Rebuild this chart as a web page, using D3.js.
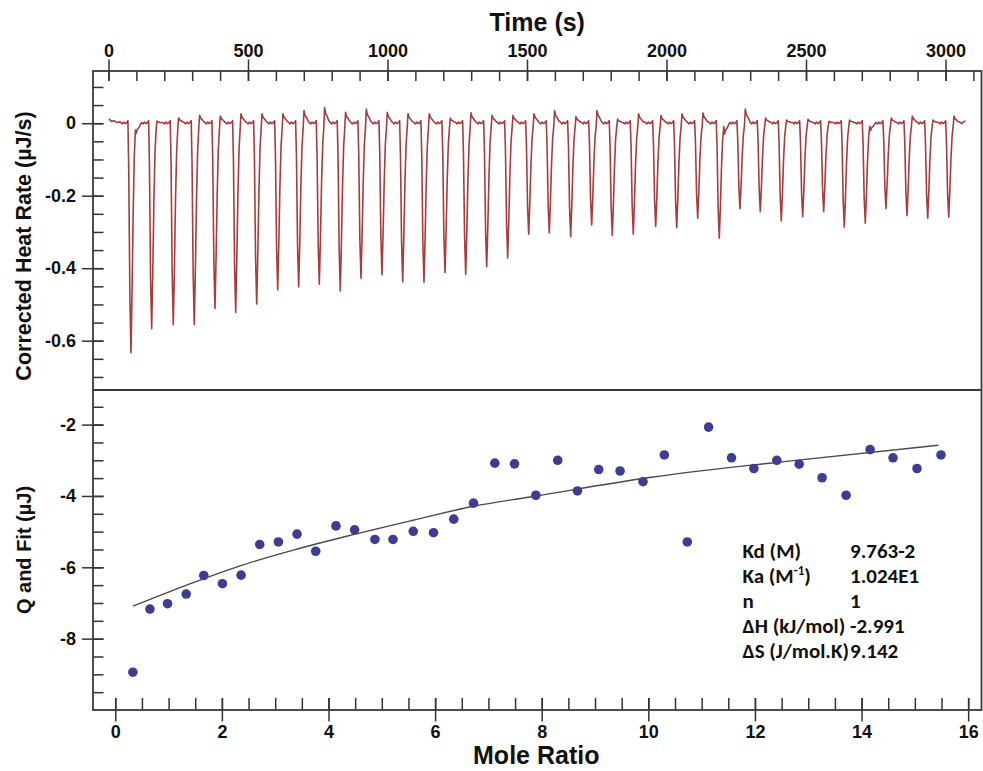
<!DOCTYPE html>
<html>
<head>
<meta charset="utf-8">
<script src="https://cdn.jsdelivr.net/npm/d3@7"></script>
<style>
  body { margin: 0; background: #fff; }
  svg text { font-family: "Liberation Sans", Arial, sans-serif; fill: #111; }
</style>
</head>
<body>
<svg id="chart" width="983" height="771"></svg>
<script>
// Injection times (s), peak minimum (µJ/s) and overshoot after each peak (µJ/s)
const injTime = [80.6, 154.8, 232.3, 307.5, 381.7, 455.9, 531.2, 606.5, 681.7, 755.6,
                 830.8, 905, 980.3, 1054.5, 1130.8, 1206.1, 1280.3, 1355.6, 1430.8, 1506.1,
                 1579.9, 1656.6, 1731.9, 1805.7, 1881, 1961.3, 2036.6, 2111.8, 2189.2, 2263.4,
                 2336.2, 2411.5, 2488.2, 2563.4, 2637.3, 2712.5, 2786.7, 2862, 2936.2, 3011.5];
const peakMin = [-0.633, -0.567, -0.556, -0.556, -0.511, -0.522, -0.499, -0.460, -0.452, -0.444,
                 -0.463, -0.428, -0.418, -0.437, -0.439, -0.412, -0.417, -0.396, -0.372, -0.306,
                 -0.303, -0.313, -0.281, -0.310, -0.306, -0.285, -0.288, -0.262, -0.317, -0.236,
                 -0.244, -0.270, -0.258, -0.244, -0.287, -0.276, -0.236, -0.255, -0.262, -0.259];
const peakBump = [-0.028, 0.006, 0.015, 0.022, 0.020, 0.026, 0.026, 0.026, 0.035, 0.043,
                  0.030, 0.039, 0.030, 0.026, 0.026, 0.014, 0.029, 0.022, 0.022, 0.026,
                  0.035, 0.018, 0.035, 0.011, 0.026, 0.021, 0.026, 0.028, -0.030, 0.039,
                  0.014, 0.009, 0.011, 0.005, 0.009, -0.020, 0.014, 0.020, 0.009, 0.020];

// baseline before the first and after the last injection [time, rate]
const leadIn = [[2, 0.012], [10, 0.005], [20, 0.007], [30, 0.002], [40, 0.004]];
const tailOut = [[3050, 0.004], [3058, -0.001], [3065, 0.004], [3072, 0.006]];

// shape of one injection peak:
// [dt from peak (s), share of peak depth, share of overshoot, offset]
const pulse = [
  [-36, 0, 0, 0.002], [-31, 0, 0, -0.002], [-26, 0, 0, 0.003], [-21, 0, 0, -0.001],
  [-15, 0, 0, 0.002], [-11, 0, 0, 0.007], [-8, 0.2, 0, 0], [-4, 0.75, 0, 0],
  [0, 1, 0, 0], [4, 0.72, 0, 0], [8, 0.38, 0, 0], [12, 0.14, 0, 0], [16, 0.03, 0, 0],
  [19, 0, 1, 0], [23, 0, 0.6, 0], [28, 0, 0.45, 0], [34, 0, 0.15, 0.001]
];

// integrated heats
const moleRatio = [0.33, 0.65, 0.98, 1.33, 1.66, 2.01, 2.36, 2.71, 3.06, 3.41,
                   3.76, 4.14, 4.49, 4.87, 5.21, 5.59, 5.97, 6.35, 6.72, 7.12,
                   7.49, 7.89, 8.30, 8.67, 9.07, 9.47, 9.90, 10.30, 10.73, 11.13,
                   11.56, 11.98, 12.41, 12.83, 13.26, 13.71, 14.16, 14.59, 15.04, 15.49];
const qHeat = [-8.94, -7.17, -7.02, -6.75, -6.23, -6.46, -6.22, -5.36, -5.29, -5.07,
               -5.55, -4.84, -4.95, -5.22, -5.22, -4.99, -5.03, -4.65, -4.20, -3.08,
               -3.10, -3.98, -3.00, -3.86, -3.26, -3.30, -3.60, -2.85, -5.29, -2.07,
               -2.93, -3.23, -3.00, -3.11, -3.49, -3.98, -2.70, -2.93, -3.23, -2.85];

// fitted curve [mole ratio, Q]
const fitCurve = [[0.33, -7.09], [1.34, -6.50], [2.34, -5.96], [3.34, -5.52], [4.34, -5.13],
                  [5.59, -4.68], [6.72, -4.29], [7.78, -4.03], [10.09, -3.47], [12.59, -3.03],
                  [15.44, -2.58]];

// tick values
const timeTicks = [0, 500, 1000, 1500, 2000, 2500, 3000];
const rateTicks = [0, -0.2, -0.4, -0.6];
const moleTicks = [0, 2, 4, 6, 8, 10, 12, 14, 16];
const qTicks = [-2, -4, -6, -8];

// fit results
const paramNames = ["Kd (M)", "Ka (M^-1)", "n", "ΔH (kJ/mol)", "ΔS (J/mol.K)"];
const paramValues = ["9.763-2", "1.024E1", "1", "-2.991", "9.142"];

const svg = d3.select("#chart");
const plotLeft = 93, plotRight = 981.5, plotTop = 71, plotMid = 390, plotBottom = 710;

const xTime = d3.scaleLinear().domain([-55.5, 3129]).range([plotLeft, plotRight]);
const yRate = d3.scaleLinear().domain([-0.736, 0.144]).range([plotMid, plotTop]);
const xMole = d3.scaleLinear().domain([-0.418, 16.25]).range([plotLeft, plotRight]);
const yQ = d3.scaleLinear().domain([-10, -1.03]).range([plotBottom, plotMid]);

const axisColor = "#333";

// style an axis group: drop domain, colour ticks, font for labels
function styleAxis(g, size) {
  g.select(".domain").remove();
  g.attr("font-family", null).attr("font-size", null);
  g.selectAll(".tick line").attr("stroke", axisColor).attr("stroke-width", 1.5);
  g.selectAll(".tick text")
    .attr("font-size", size)
    .attr("font-weight", "bold")
    .attr("fill", "#111");
}

// ---- top axis (time)
svg.append("g")
  .attr("transform", `translate(0,${plotTop})`)
  .call(d3.axisTop(xTime).tickValues(d3.range(0, 3101, 100)).tickSize(-10).tickFormat(""))
  .call(g => styleAxis(g, 18));
svg.append("g")
  .attr("transform", `translate(0,${plotTop})`)
  .call(d3.axisTop(xTime).tickValues(timeTicks).tickSize(11.5).tickPadding(2.5)
    .tickFormat(d => String(d)))
  .call(g => styleAxis(g, 18))
  .call(g => g.selectAll(".tick line").attr("y1", 10));

// ---- left axis, top panel
svg.append("g")
  .attr("transform", `translate(${plotLeft},0)`)
  .call(d3.axisLeft(yRate).tickValues(d3.range(-0.7, 0.11, 0.05)).tickSize(-10.5).tickFormat(""))
  .call(g => styleAxis(g, 18));
svg.append("g")
  .attr("transform", `translate(${plotLeft},0)`)
  .call(d3.axisLeft(yRate).tickValues(rateTicks).tickSize(11).tickPadding(6)
    .tickFormat(d => d === 0 ? "0" : d3.format(".1f")(d).replace("−", "-")))
  .call(g => styleAxis(g, 18))
  .call(g => g.selectAll(".tick line").attr("x1", 10.5));

// ---- left axis, bottom panel
svg.append("g")
  .attr("transform", `translate(${plotLeft},0)`)
  .call(d3.axisLeft(yQ).tickValues(d3.range(-9.5, -1.4, 0.5)).tickSize(-10.5).tickFormat(""))
  .call(g => styleAxis(g, 18));
svg.append("g")
  .attr("transform", `translate(${plotLeft},0)`)
  .call(d3.axisLeft(yQ).tickValues(qTicks).tickSize(11).tickPadding(6)
    .tickFormat(d => String(d)))
  .call(g => styleAxis(g, 18))
  .call(g => g.selectAll(".tick line").attr("x1", 10.5));

// ---- bottom axis (mole ratio)
svg.append("g")
  .attr("transform", `translate(0,${plotBottom})`)
  .call(d3.axisBottom(xMole).tickValues(d3.range(0, 16.01, 0.5)).tickSize(-12).tickFormat(""))
  .call(g => styleAxis(g, 18));
svg.append("g")
  .attr("transform", `translate(0,${plotBottom})`)
  .call(d3.axisBottom(xMole).tickValues(moleTicks).tickSize(11.5).tickPadding(3.5))
  .call(g => styleAxis(g, 18))
  .call(g => g.selectAll(".tick line").attr("y1", -12));

// ---- frame and divider
svg.append("rect")
  .attr("x", plotLeft).attr("y", plotTop)
  .attr("width", plotRight - plotLeft).attr("height", plotBottom - plotTop)
  .attr("fill", "none").attr("stroke", "#3a3a3a").attr("stroke-width", 1.8);
svg.append("line")
  .attr("x1", plotLeft).attr("x2", plotRight)
  .attr("y1", plotMid).attr("y2", plotMid)
  .attr("stroke", "#3a3a3a").attr("stroke-width", 1.8);

// ---- thermogram
const trace = leadIn.slice();
injTime.forEach((t, i) => {
  pulse.forEach(([dt, fD, fB, off]) => {
    trace.push([t + dt, fD * peakMin[i] + fB * peakBump[i] + off]);
  });
});
tailOut.forEach(p => trace.push(p));

svg.append("path")
  .datum(trace)
  .attr("fill", "none")
  .attr("stroke", "#a63c3c")
  .attr("stroke-width", 1.6)
  .attr("stroke-linejoin", "round")
  .attr("d", d3.line().x(d => xTime(d[0])).y(d => yRate(d[1])));

// ---- fit line and points
svg.append("path")
  .datum(fitCurve)
  .attr("fill", "none")
  .attr("stroke", "#4a4a4a")
  .attr("stroke-width", 1.4)
  .attr("d", d3.line().x(d => xMole(d[0])).y(d => yQ(d[1])).curve(d3.curveMonotoneX));

svg.append("g")
  .selectAll("circle")
  .data(moleRatio.map((m, i) => ({ m, q: qHeat[i] })))
  .enter().append("circle")
  .attr("cx", d => xMole(d.m))
  .attr("cy", d => yQ(d.q))
  .attr("r", 4.8)
  .attr("fill", "#3d3d94");

// ---- titles
svg.append("text")
  .attr("x", (plotLeft + plotRight) / 2).attr("y", 31)
  .attr("text-anchor", "middle")
  .attr("font-size", 25).attr("font-weight", "bold")
  .text("Time (s)");

svg.append("text")
  .attr("x", (plotLeft + plotRight) / 2 - 1).attr("y", 764)
  .attr("text-anchor", "middle")
  .attr("font-size", 25).attr("font-weight", "bold")
  .text("Mole Ratio");

svg.append("text")
  .attr("transform", "translate(31,246) rotate(-90)")
  .attr("text-anchor", "middle")
  .attr("font-size", 21.5).attr("font-weight", "bold")
  .text("Corrected Heat Rate (µJ/s)");

svg.append("text")
  .attr("transform", "translate(31,550) rotate(-90)")
  .attr("text-anchor", "middle")
  .attr("font-size", 20).attr("font-weight", "bold")
  .text("Q and Fit (µJ)");

// ---- fit parameters
const params = svg.append("g")
  .attr("font-size", 21);

paramNames.forEach((name, i) => {
  const yBase = 558 + i * 25;
  const t = params.append("text")
    .attr("x", 742.5).attr("y", yBase)
    .style("font-family", "Carlito, Lato, sans-serif")
    .style("font-weight", 600);
  const parts = name.split(/\^(-?\d+)/);
  parts.forEach((p, k) => {
    if (!p) return;
    const span = t.append("tspan").text(p);
    if (k % 2 === 1) span.attr("font-size", 13).attr("dy", -8);
    else if (k > 1) span.attr("dy", 8);
  });
  params.append("text")
    .attr("x", 850).attr("y", yBase)
    .style("font-family", "Carlito, Lato, sans-serif")
    .style("font-weight", 600)
    .text(paramValues[i]);
});
</script>
</body>
</html>
